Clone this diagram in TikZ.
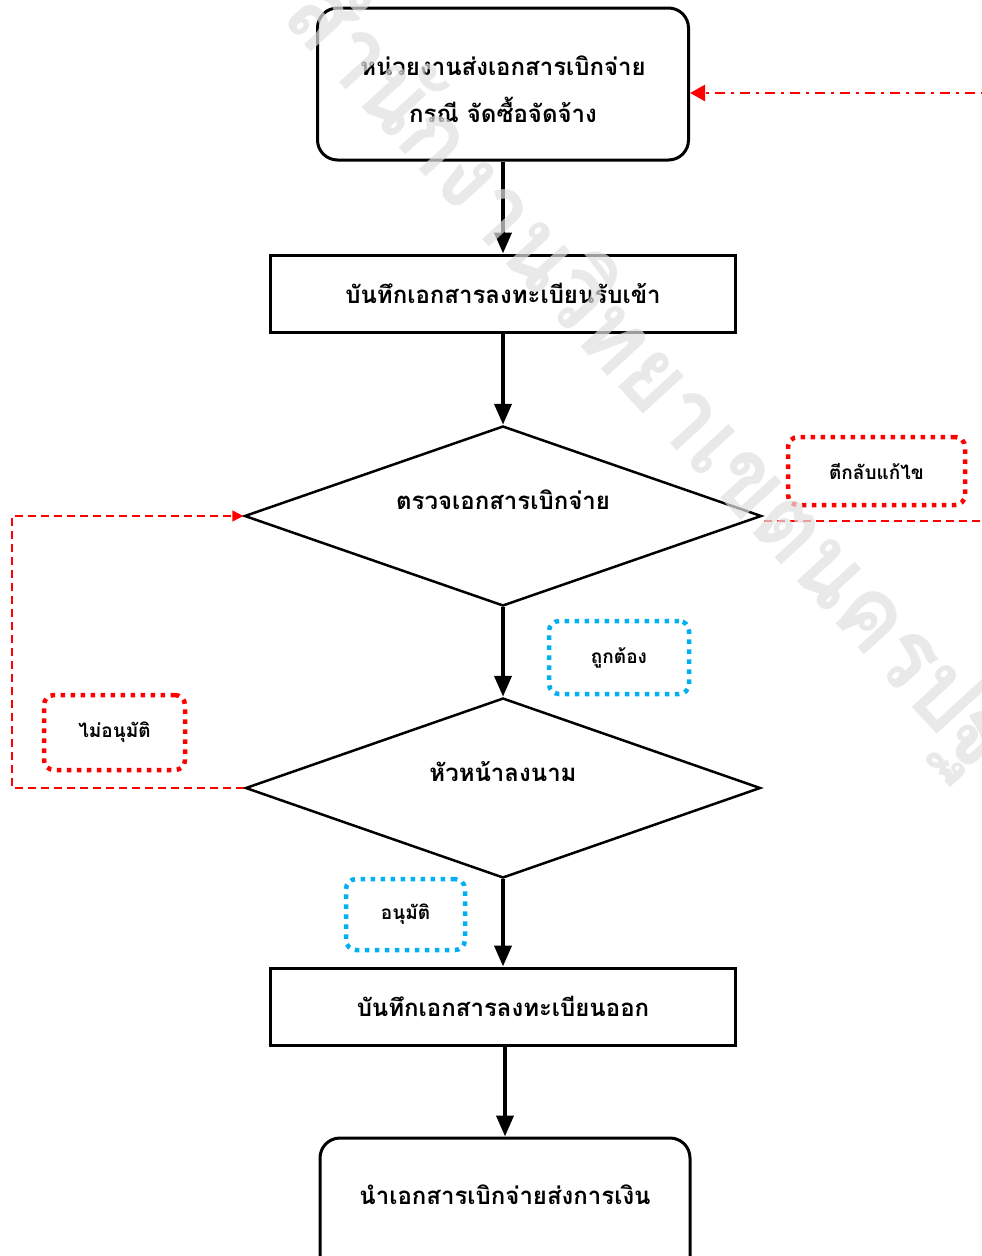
\documentclass[tikz,border=0pt]{standalone}
\usepackage{fontspec}
\newfontfamily\thai[Script=Thai]{Loma}
\usetikzlibrary{shapes.geometric,arrows.meta}
\definecolor{tagblue}{HTML}{00B0F0}
\tikzset{
  x=1pt,y=-1pt,
  procbox/.style={draw,line width=3pt,minimum width=465pt,minimum height=77pt,inner sep=0pt,font=\thai\bfseries\fontsize{24}{30}\selectfont},
  termbox/.style={draw,line width=3pt,rounded corners=20pt,inner sep=0pt},
  decbox/.style={draw,diamond,line width=2.5pt,inner sep=0pt},
  maintext/.style={font=\thai\bfseries\fontsize{24}{30}\selectfont,inner sep=0pt,align=center},
  flow/.style={line width=4pt,-{Triangle[width=17pt,length=21pt]}},
  redtag/.style={draw=red,line width=4.5pt,dash pattern=on 4.5pt off 5.5pt,rounded corners=10pt,inner sep=0pt,font=\thai\bfseries\fontsize{19}{22}\selectfont},
  bluetag/.style={draw=tagblue,line width=4.5pt,dash pattern=on 4.5pt off 5.5pt,rounded corners=10pt,inner sep=0pt,font=\thai\bfseries\fontsize{19}{22}\selectfont},
  reddash/.style={draw=red,line width=1.5pt,dash pattern=on 8pt off 5pt},
  reddashdot/.style={draw=red,line width=2.5pt,dash pattern=on 10pt off 6pt on 3pt off 6pt},
  watermark/.style={text=black!12,opacity=0.7,font=\thai\bfseries\fontsize{100}{100}\selectfont,inner sep=0pt,transform shape}
}
\begin{document}
\begin{tikzpicture}
\useasboundingbox (0,0) rectangle (982,1256);
\clip (0,0) rectangle (982,1256);
\fill[white] (0,0) rectangle (982,1256);

% main flow nodes
\node[termbox,minimum width=371pt,minimum height=152pt] (b1) at (503,84) {};
\node[maintext] (t0) at (503,89) {หน่วยงานส่งเอกสารเบิกจ่าย\\[17pt]กรณี จัดซื้อจัดจ้าง};
\node[procbox] (b2) at (503,293.5) {บันทึกเอกสารลงทะเบียนรับเข้า};
\node[decbox,minimum width=517pt,minimum height=180pt] (d1) at (503,516) {};
\node[maintext] (t1) at (503,500) {ตรวจเอกสารเบิกจ่าย};
\node[decbox,minimum width=515pt,minimum height=180pt] (d2) at (503,788) {};
\node[maintext] (t2) at (503,772) {หัวหน้าลงนาม};
\node[procbox] (b3) at (503,1006.5) {บันทึกเอกสารลงทะเบียนออก};
\node[termbox,minimum width=370pt,minimum height=140pt] (b4) at (505,1208) {};
\node[maintext] (t4) at (505,1195) {นำเอกสารเบิกจ่ายส่งการเงิน};

% tags
\node[redtag,minimum width=177pt,minimum height=68pt] (r1) at (876.5,471) {ตีกลับแก้ไข};
\node[bluetag,minimum width=140pt,minimum height=73pt] (g1) at (619,657.5) {ถูกต้อง};
\node[redtag,minimum width=141pt,minimum height=75pt] (r2) at (114.5,732.5) {ไม่อนุมัติ};
\node[bluetag,minimum width=119pt,minimum height=71pt] (g2) at (405.5,914.5) {อนุมัติ};

% flow arrows
\draw[flow] (b1.south) -- (b2.north);
\draw[flow] (b2.south) -- (d1.north);
\draw[flow] (d1.south) -- (d2.north);
\draw[flow] (d2.south) -- (b3.north);
\draw[flow] (b3.south -| b4.north) -- (b4.north);

% feedback lines
\coordinate (L1) at (12,788);
\coordinate (L2) at (12,516);
\draw[reddash,-{Triangle[width=11pt,length=11pt]}] (d2.west) -- (L1) -- (L2) -- (d1.west);
\coordinate (R1) at (1000,521);
\coordinate (R2) at (1000,93);
\draw[reddash] ([shift={(1,5)}]d1.east) -- (R1);
\draw[reddashdot,-{Triangle[width=16pt,length=15pt]}] (R2) -- (R2 -| b1.east);

% watermark
\node[watermark,rotate=-47.5,xscale=0.91] (wm) at (668,400) {สำนักงานวิทยาเขตนครปฐม};
\end{tikzpicture}
\end{document}
